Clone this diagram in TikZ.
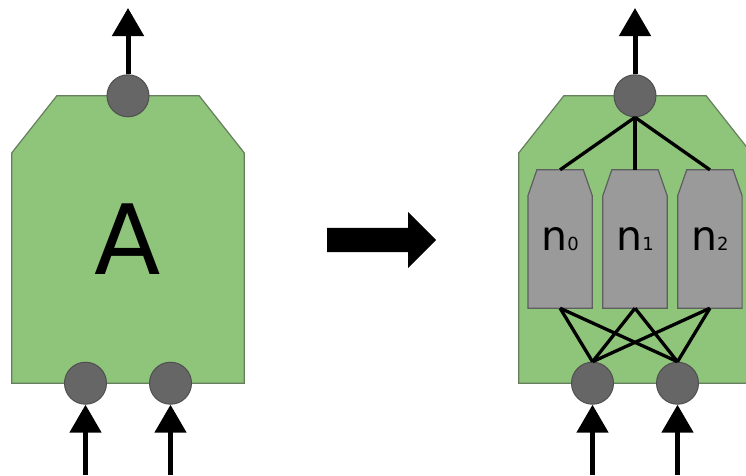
\documentclass[tikz,border=0pt]{standalone}
\usepackage{fontspec}
\setmainfont{DejaVu Sans}
\usepackage{tikz}
\usetikzlibrary{arrows.meta,positioning,shapes.arrows,backgrounds}

\definecolor{boxgreen}{HTML}{8FC47B}
\definecolor{boxedge}{HTML}{667F5C}
\definecolor{portfill}{HTML}{666666}
\definecolor{portedge}{HTML}{4F4F4F}
\definecolor{unitfill}{HTML}{9A9A9A}
\definecolor{unitedge}{HTML}{5E5E5E}

% outline with the two upper corners cut off: node, cut width, cut height, path options
\newcommand{\cutbox}[4]{%
  \path[#4] (#1.south west) -- ([yshift=-#3]#1.north west) -- ([xshift=#2]#1.north west)
    -- ([xshift=-#2]#1.north east) -- ([yshift=-#3]#1.north east) -- (#1.south east) -- cycle;}
\newcommand{\idx}[1]{{\fontsize{18pt}{18pt}\selectfont #1}}

\tikzset
{
  block/.style = {rectangle, inner sep=0pt, minimum width=232pt, minimum height=287pt, font=\fontsize{97pt}{97pt}\selectfont},
  unit/.style  = {rectangle, inner sep=0pt, minimum width=64pt, minimum height=138pt, font=\fontsize{41pt}{41pt}\selectfont},
  port/.style  = {circle, inner sep=0pt, minimum size=42pt, fill=portfill, draw=portedge, line width=1pt},
  flow/.style  = {->, line width=5pt},
  link/.style  = {line width=3.3pt}
}

\begin{document}
\begin{tikzpicture}[x=1pt,y=-1pt,>={Triangle[width=31pt,length=28pt]}]
  \useasboundingbox (0,0) rectangle (746,475);
  \clip (0,0) rectangle (746,475);

  % single block
  \node[block] (A) at (128,239.5) {A};
  \node[port] (outA) at (A.north) {};
  \node[port] (inA0) at ([xshift=-42.5pt]A.south) {};
  \node[port] (inA1) at ([xshift=42.5pt]A.south) {};
  \coordinate (topA) at (128,8);
  \coordinate (botA0) at (inA0 |- 0,475);
  \coordinate (botA1) at (inA1 |- 0,475);
  \draw[flow] (outA) -- (topA);
  \draw[flow] (botA0) -- (inA0);
  \draw[flow] (botA1) -- (inA1);

  % becomes
  \node[single arrow, fill=black, inner sep=12pt, minimum height=109pt, minimum width=56pt,
        single arrow head extend=16pt, anchor=tail] (step) at (327,240) {};

  % same block split into units
  \node[block] (B) at (635,239.5) {};
  \node[unit] (n1) at (635,239) {n\idx{1}};
  \node[unit, left=10.5pt of n1] (n0) {n\idx{0}};
  \node[unit, right=10.5pt of n1] (n2) {n\idx{2}};
  \node[port] (outB) at (B.north) {};
  \node[port] (inB0) at ([xshift=-42.5pt]B.south) {};
  \node[port] (inB1) at ([xshift=42.5pt]B.south) {};
  \coordinate (topB) at (635,8);
  \coordinate (botB0) at (inB0 |- 0,475);
  \coordinate (botB1) at (inB1 |- 0,475);
  \draw[flow] (outB) -- (topB);
  \draw[flow] (botB0) -- (inB0);
  \draw[flow] (botB1) -- (inB1);

  \foreach \u in {n0,n1,n2}
  {
    \draw[link] (outB.south) -- (\u.north);
    \draw[link] (\u.south) -- (inB0.north);
    \draw[link] (\u.south) -- (inB1.north);
  }

  \begin{scope}[on background layer]
    \cutbox{A}{45pt}{57pt}{fill=boxgreen, draw=boxedge, line width=1.2pt}
    \cutbox{B}{45pt}{57pt}{fill=boxgreen, draw=boxedge, line width=1.2pt}
    \foreach \u in {n0,n1,n2}
    {
      \cutbox{\u}{9pt}{26pt}{fill=unitfill, draw=unitedge, line width=1.2pt}
    }
  \end{scope}
\end{tikzpicture}
\end{document}
